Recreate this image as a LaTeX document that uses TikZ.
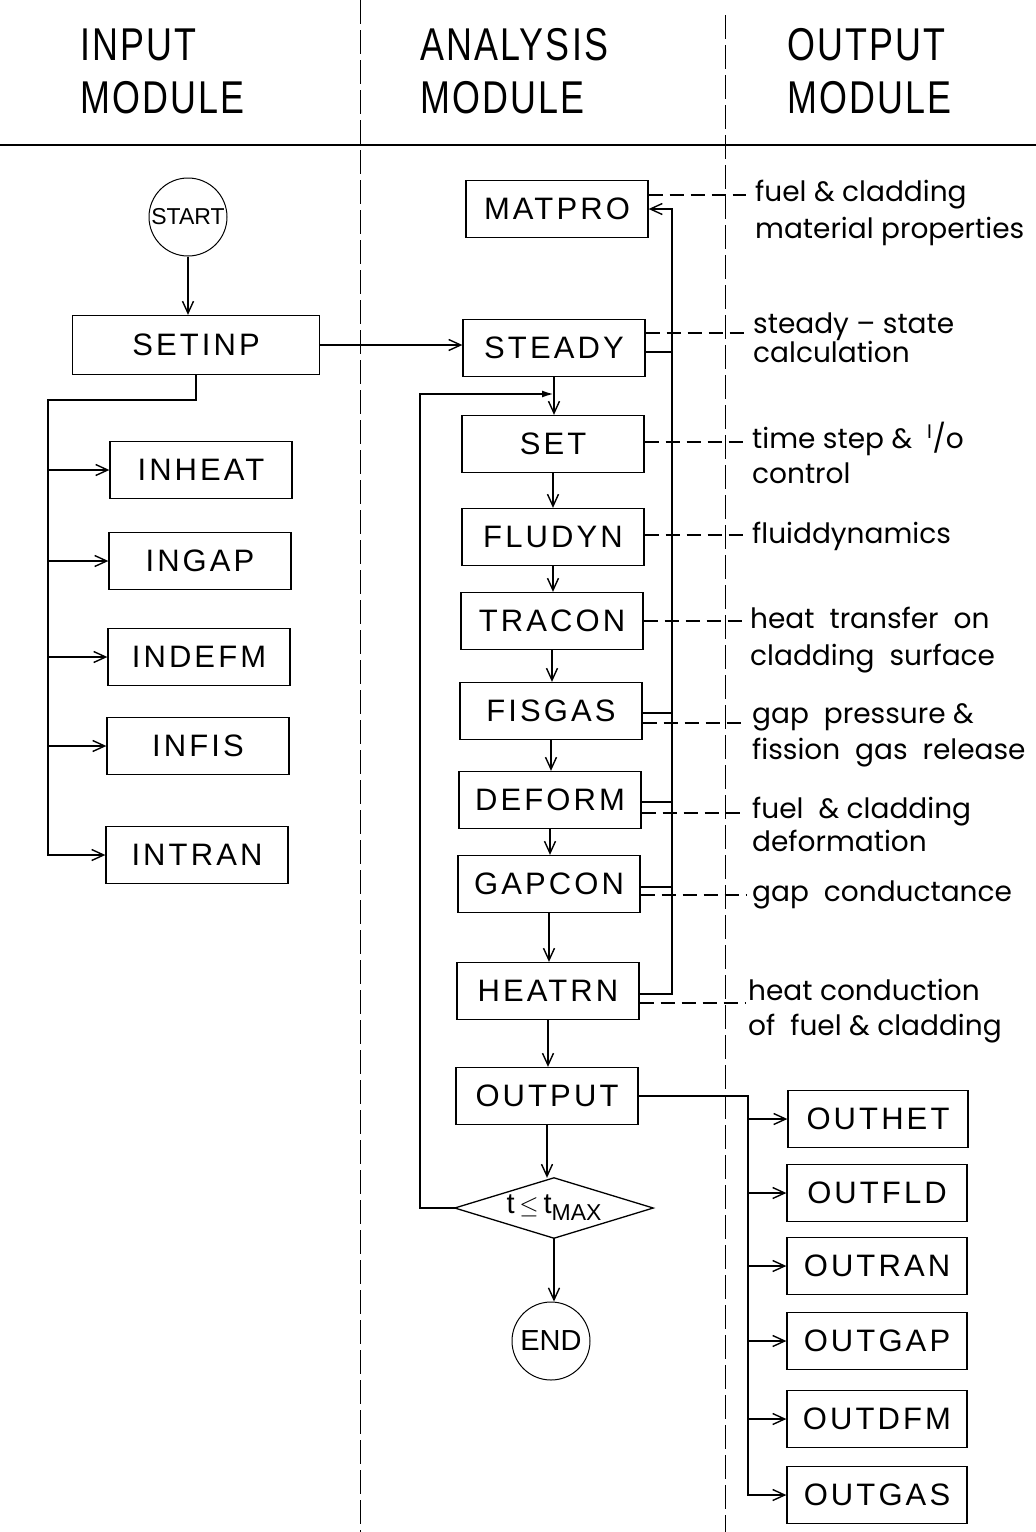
\documentclass[tikz,border=0pt]{standalone}
\usepackage{fontspec}
\usepackage{graphicx}
\setmainfont{Liberation Sans}
\newfontfamily\boxfont[LetterSpace=10]{Liberation Sans}
\newfontfamily\headfont[LetterSpace=6]{Liberation Sans}
\newfontfamily\lblfont[Ligatures=TeX]{Poppins}
\usetikzlibrary{arrows.meta}
\begin{document}
\begin{tikzpicture}[x=1pt,y=-1pt,
  box/.style={draw,line width=1.3pt,minimum width=182pt,minimum height=57pt,inner sep=0pt,font=\boxfont\fontsize{31}{31}\selectfont},
  lbl/.style={anchor=base west,align=left,inner sep=0pt,font=\lblfont\fontsize{28}{34}\selectfont},
  con/.style={line width=2pt},
  arr/.style={con,-{Straight Barb[length=12pt,width=11pt,line width=1.4pt]}},
  dsh/.style={line width=1.6pt,dash pattern=on 14pt off 7pt},
  div/.style={line width=1pt,dash pattern=on 24pt off 6pt},
  head/.style={anchor=west,inner sep=0pt,font=\headfont\fontsize{46}{46}\selectfont},
  term/.style={draw,circle,line width=1pt,inner sep=0pt}
]
\fill[white] (0,0) rectangle (1036,1532);
\useasboundingbox (0,0) rectangle (1036,1532);

% header
\node[head] (hin1) at (80,45) {\scalebox{0.78}[1]{INPUT}};
\node[head] (hin2) at (80,98) {\scalebox{0.78}[1]{MODULE}};
\node[head] (han1) at (420,45) {\scalebox{0.78}[1]{ANALYSIS}};
\node[head] (han2) at (420,98) {\scalebox{0.78}[1]{MODULE}};
\node[head] (hout1) at (787,45) {\scalebox{0.78}[1]{OUTPUT}};
\node[head] (hout2) at (787,98) {\scalebox{0.78}[1]{MODULE}};
\draw[line width=1.6pt] (0,145) -- (1036,145);
\draw[div] (360,0) -- (360,1532);
\draw[div] (725,15) -- (725,1532);

% input module
\node[term,minimum size=78pt,font=\fontsize{23}{23}\selectfont] (start) at (188,217) {START};
\node[box,minimum width=247pt,minimum height=59pt] (setinp) at (196,345) {SETINP};
\node[box] (inheat) at (201,470) {INHEAT};
\node[box] (ingap) at (200,561) {INGAP};
\node[box] (indefm) at (199,657) {INDEFM};
\node[box] (infis) at (198,746) {INFIS};
\node[box] (intran) at (197,855) {INTRAN};

% analysis module
\node[box] (matpro) at (557,209) {MATPRO};
\node[box] (steady) at (554,348) {STEADY};
\node[box] (set) at (553,444) {SET};
\node[box] (fludyn) at (553,537) {FLUDYN};
\node[box] (tracon) at (552,621) {TRACON};
\node[box] (fisgas) at (551,711) {FISGAS};
\node[box] (deform) at (550,800) {DEFORM};
\node[box] (gapcon) at (549,884) {GAPCON};
\node[box] (heatrn) at (548,991) {HEATRN};
\node[box] (output) at (547,1096) {OUTPUT};
\node[minimum width=198pt,minimum height=60pt,inner sep=0pt,font=\fontsize{29}{29}\selectfont] (dia) at (554,1208) {t\,$\leq$\,t\raisebox{-7pt}{\fontsize{23}{23}\selectfont MAX}};
\draw[line width=1.3pt] (dia.north) -- (dia.east) -- (dia.south) -- (dia.west) -- cycle;
\node[term,minimum size=78pt,font=\fontsize{29}{29}\selectfont] (end) at (551,1341) {END};

% output module
\node[box,minimum width=180pt] (outhet) at (878,1119) {OUTHET};
\node[box,minimum width=180pt] (outfld) at (877,1193) {OUTFLD};
\node[box,minimum width=180pt] (outran) at (877,1266) {OUTRAN};
\node[box,minimum width=180pt] (outgap) at (877,1341) {OUTGAP};
\node[box,minimum width=180pt] (outdfm) at (877,1419) {OUTDFM};
\node[box,minimum width=180pt] (outgas) at (877,1495) {OUTGAS};

% labels (anchored at the baseline of the last line)
\node[lbl] (l1) at (755,238) {fuel \& cladding\\[3pt]material properties};
\node[lbl] (l2) at (753,362) {steady – state\\[-5pt]calculation};
\node[lbl] (l3) at (752,483) {time step \&\ \ \textsuperscript{I}/o\\[1pt]control};
\node[lbl] (l4) at (752,543) {fluiddynamics};
\node[lbl] (l5) at (750,665) {heat\ \ transfer\ \ on\\[3pt]cladding\ \ surface};
\node[lbl] (l6) at (752,759) {gap\ \ pressure \&\\[2pt]fission\ \ gas\ \ release};
\node[lbl] (l7) at (752,851) {fuel\ \ \& cladding\\[-1pt]deformation};
\node[lbl] (l8) at (752,901) {gap\ \ conductance};
\node[lbl] (l9) at (748,1035) {heat conduction\\[1pt]of\ \ fuel \& cladding};

% connectors: input
\draw[arr] (start.south) -- (start.south |- setinp.north);
\draw[arr] (setinp.east) -- (setinp.east -| steady.west);
\coordinate (ib) at (48,400);
\draw[arr] (setinp.south) |- (ib) |- (intran.west);
\foreach \n in {inheat,ingap,indefm,infis}
  \draw[arr] (ib |- \n.west) -- (\n.west);

% connectors: analysis chain
\draw[arr] (steady.south) -- (steady.south |- set.north);
\draw[arr] (set.south) -- (set.south |- fludyn.north);
\draw[arr] (fludyn.south) -- (fludyn.south |- tracon.north);
\draw[arr] (tracon.south) -- (tracon.south |- fisgas.north);
\draw[arr] (fisgas.south) -- (fisgas.south |- deform.north);
\draw[arr] (deform.south) -- (deform.south |- gapcon.north);
\draw[arr] (gapcon.south) -- (gapcon.south |- heatrn.north);
\draw[arr] (heatrn.south) -- (heatrn.south |- output.north);
\draw[arr] (output.south) -- (output.south |- dia.north);
\draw[arr] (dia.south) -- (dia.south |- end.north);

% loop back
\coordinate (lx) at (420,0);
\coordinate (lj) at (554,394);
\draw[con,-{Latex[length=12pt,width=7pt]}] (dia.west) -- (lx |- dia.west) |- (lj);

% MATPRO bus
\coordinate (rb) at (672,0);
\draw[arr] ([yshift=-3pt]heatrn.east) -| (rb |- matpro.east) -- (matpro.east);
\draw[con] ([yshift=-4pt]steady.east) -- ([yshift=-4pt]rb |- steady.east);
\draw[con] ([yshift=-2pt]fisgas.east) -- ([yshift=-2pt]rb |- fisgas.east);
\draw[con] ([yshift=-2pt]deform.east) -- ([yshift=-2pt]rb |- deform.east);
\draw[con] ([yshift=-3pt]gapcon.east) -- ([yshift=-3pt]rb |- gapcon.east);

% dashed links to descriptions
\coordinate (dx) at (746,0);
\draw[dsh] ([yshift=14pt]matpro.east) -- ([yshift=14pt]dx |- matpro.east);
\draw[dsh] ([yshift=15pt]steady.east) -- ([yshift=15pt]dx |- steady.east);
\draw[dsh] ([yshift=2pt]set.east) -- ([yshift=2pt]dx |- set.east);
\draw[dsh] ([yshift=2pt]fludyn.east) -- ([yshift=2pt]dx |- fludyn.east);
\draw[dsh] (tracon.east) -- (dx |- tracon.east);
\draw[dsh] ([yshift=-12pt]fisgas.east) -- ([yshift=-12pt]dx |- fisgas.east);
\draw[dsh] ([yshift=-13pt]deform.east) -- ([yshift=-13pt]dx |- deform.east);
\draw[dsh] ([yshift=-11pt]gapcon.east) -- ([yshift=-11pt]dx |- gapcon.east);
\draw[dsh] ([yshift=-12pt]heatrn.east) -- ([yshift=-12pt]dx |- heatrn.east);

% output bus
\coordinate (ob) at (748,0);
\draw[arr] (output.east) -- (output.east -| ob) |- (outgas.west);
\foreach \n in {outhet,outfld,outran,outgap,outdfm}
  \draw[arr] (ob |- \n.west) -- (\n.west);
\end{tikzpicture}
\end{document}
